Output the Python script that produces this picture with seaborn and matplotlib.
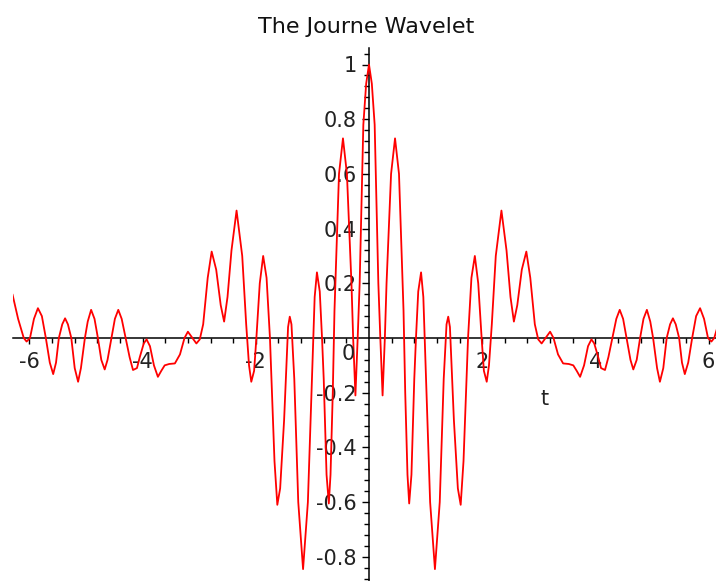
import matplotlib
matplotlib.use("Agg")
import matplotlib.pyplot as plt
import seaborn as sns
import numpy as np
import pandas as pd

# ---- data ----
t_left = [-6.30, -6.20, -6.10, -6.05, -5.99, -5.92, -5.85, -5.78, -5.71, -5.64,
          -5.58, -5.53, -5.48, -5.42, -5.37, -5.32, -5.26, -5.20, -5.14, -5.09,
          -5.02, -4.97, -4.91, -4.85, -4.79, -4.73, -4.67, -4.62, -4.55, -4.49,
          -4.43, -4.37, -4.30, -4.23, -4.17, -4.10, -4.05, -3.98, -3.93, -3.87,
          -3.80, -3.73, -3.67, -3.61, -3.53, -3.43, -3.34, -3.26, -3.20, -3.12,
          -3.05, -2.99, -2.93, -2.85, -2.78, -2.70, -2.62, -2.56, -2.50, -2.43,
          -2.34, -2.24, -2.17, -2.12, -2.08, -2.03, -1.99, -1.93, -1.87, -1.81,
          -1.75, -1.67, -1.62, -1.57, -1.50, -1.43, -1.40, -1.37, -1.32, -1.25,
          -1.165, -1.08, -1.00, -0.96, -0.92, -0.87, -0.83, -0.80, -0.75, -0.71,
          -0.68, -0.64, -0.61, -0.53, -0.46, -0.39, -0.31, -0.28, -0.24, -0.20,
          -0.165, -0.10, -0.05]
y_left = [0.16, 0.07, 0.00, -0.013, 0.00, 0.07, 0.109, 0.08, 0.00, -0.09,
          -0.132, -0.09, 0.00, 0.05, 0.072, 0.05, 0.00, -0.11, -0.16, -0.11,
          0.00, 0.06, 0.103, 0.07, 0.00, -0.08, -0.115, -0.08, 0.00, 0.07,
          0.103, 0.07, 0.00, -0.07, -0.117, -0.11, -0.07, -0.02, -0.005, -0.03,
          -0.10, -0.142, -0.12, -0.10, -0.095, -0.093, -0.06, 0.00, 0.023, 0.00,
          -0.02, -0.005, 0.05, 0.22, 0.316, 0.25, 0.12, 0.06, 0.15, 0.32,
          0.466, 0.30, 0.05, -0.10, -0.16, -0.12, 0.00, 0.20, 0.30, 0.22,
          0.00, -0.45, -0.61, -0.55, -0.30, 0.04, 0.078, 0.05, -0.15, -0.60,
          -0.845, -0.60, -0.10, 0.15, 0.24, 0.17, 0.00, -0.15, -0.50, -0.605,
          -0.50, -0.20, 0.10, 0.60, 0.73, 0.60, 0.20, 0.00, -0.21, 0.00,
          0.20, 0.78, 0.93]
t_right = [0.00, 0.05, 0.10, 0.165, 0.20, 0.24, 0.28, 0.31, 0.39, 0.46,
           0.53, 0.61, 0.64, 0.68, 0.71, 0.75, 0.80, 0.83, 0.87, 0.92,
           0.96, 1.00, 1.08, 1.165, 1.25, 1.32, 1.37, 1.40, 1.43, 1.50,
           1.57, 1.62, 1.67, 1.75, 1.81, 1.87, 1.93, 1.99, 2.03, 2.08,
           2.12, 2.17, 2.24, 2.34, 2.43, 2.50, 2.56, 2.62, 2.70, 2.78,
           2.85, 2.93, 2.99, 3.05, 3.12, 3.20, 3.26, 3.34, 3.43, 3.53,
           3.61, 3.67, 3.73, 3.80, 3.87, 3.93, 3.98, 4.05, 4.10, 4.17,
           4.23, 4.30, 4.37, 4.43, 4.49, 4.55, 4.62, 4.67, 4.73, 4.79,
           4.85, 4.91, 4.97, 5.02, 5.09, 5.14, 5.20, 5.26, 5.32, 5.37,
           5.42, 5.48, 5.53, 5.58, 5.64, 5.71, 5.78, 5.85, 5.92, 5.99,
           6.05, 6.10, 6.20, 6.30]
y_right = [1.00, 0.93, 0.78, 0.20, 0.00, -0.21, 0.00, 0.20, 0.60, 0.73,
           0.60, 0.10, -0.20, -0.50, -0.605, -0.50, -0.15, 0.00, 0.17, 0.24,
           0.15, -0.10, -0.60, -0.845, -0.60, -0.15, 0.05, 0.078, 0.04, -0.30,
           -0.55, -0.61, -0.45, 0.00, 0.22, 0.30, 0.20, 0.00, -0.12, -0.16,
           -0.10, 0.05, 0.30, 0.466, 0.32, 0.15, 0.06, 0.12, 0.25, 0.316,
           0.22, 0.05, -0.005, -0.02, 0.00, 0.023, 0.00, -0.06, -0.093, -0.095,
           -0.10, -0.12, -0.142, -0.10, -0.03, -0.005, -0.02, -0.07, -0.11, -0.117,
           -0.07, 0.00, 0.07, 0.103, 0.07, 0.00, -0.08, -0.115, -0.08, 0.00,
           0.07, 0.103, 0.06, 0.00, -0.11, -0.16, -0.11, 0.00, 0.05, 0.072,
           0.05, 0.00, -0.09, -0.132, -0.09, 0.00, 0.08, 0.109, 0.07, 0.00,
           -0.013, 0.00, 0.07, 0.16]

x_major = [-6, -4, -2, 2, 4, 6]
x_major_labels = ["-6", "-4", "-2", "2", "4", "6"]
y_major = [-0.8, -0.6, -0.4, -0.2, 0.2, 0.4, 0.6, 0.8, 1.0]
y_major_labels = ["-0.8", "-0.6", "-0.4", "-0.2", "0.2", "0.4", "0.6", "0.8", "1"]
title = "The Journe Wavelet"
xlabel = "t"

df = pd.DataFrame({"t": t_left + t_right, "y": y_left + y_right})

sns.set_style("white")
plt.rcParams["font.family"] = ["DejaVu Sans"]
plt.rcParams["axes.unicode_minus"] = False

W, H = 716, 581
fig = plt.figure(figsize=(W / 100, H / 100), dpi=100)
x0_px, x1_px = 13.4, 724.6
y0_px, y1_px = 48, 581
ax = fig.add_axes([x0_px / W, 1 - y1_px / H, (x1_px - x0_px) / W, (y1_px - y0_px) / H])
ax.set_facecolor("white")

sns.lineplot(data=df, x="t", y="y", color="#ff0000", linewidth=1.3,
             estimator=None, sort=False, ax=ax)

ax.set_xlim(-6.2832, 6.2832)
ax.set_ylim((338 - 581) / 273.5, (338 - 48) / 273.5)

for s in ["top", "right"]:
    ax.spines[s].set_visible(False)
ax.spines["left"].set_position(("data", 0))
ax.spines["bottom"].set_position(("data", 0))
for s in ["left", "bottom"]:
    ax.spines[s].set_color("black")
    ax.spines[s].set_linewidth(1.1)
    ax.spines[s].set_zorder(1)

ax.set_xticks(x_major)
ax.set_xticklabels(x_major_labels)
ax.set_xticks([v for v in np.round(np.arange(-6, 6.01, 0.4), 2) if v not in x_major and abs(v) > 1e-9], minor=True)
ax.set_yticks(y_major)
ax.set_yticklabels(y_major_labels)
ax.set_yticks([v for v in np.round(np.arange(-0.88, 1.05, 0.04), 2)
               if all(abs(v - m) > 1e-6 for m in y_major) and abs(v) > 1e-6], minor=True)

ax.tick_params(axis="x", which="both", bottom=True, top=False)
ax.tick_params(axis="y", which="both", left=True, right=False)
ax.tick_params(axis="x", which="major", direction="out", length=4.3, width=1.0,
               color="black", pad=6.0, labelsize=15, labelcolor="#222222")
ax.tick_params(axis="x", which="minor", direction="out", length=3.6, width=1.0, color="black")
ax.tick_params(axis="y", which="major", direction="out", length=5.4, width=1.0,
               color="black", pad=3.6, labelsize=15, labelcolor="#222222")
ax.tick_params(axis="y", which="minor", direction="out", length=3.6, width=1.0, color="black")

ax.set_xlabel("")
ax.set_ylabel("")

# origin label and axis name
ax.text((355 - 369) / 56.6, (338 - 360) / 273.5, "0", ha="right", va="baseline",
        fontsize=15, color="#222222")
ax.text((545 - 369) / 56.6, (338 - 405) / 273.5, xlabel, ha="center", va="baseline",
        fontsize=15, color="#222222")

fig.text(366.5 / W, 1 - 33 / H, title, ha="center", va="baseline", fontsize=16, color="#111111")

fig.savefig("out.png", dpi=100, facecolor="white")
